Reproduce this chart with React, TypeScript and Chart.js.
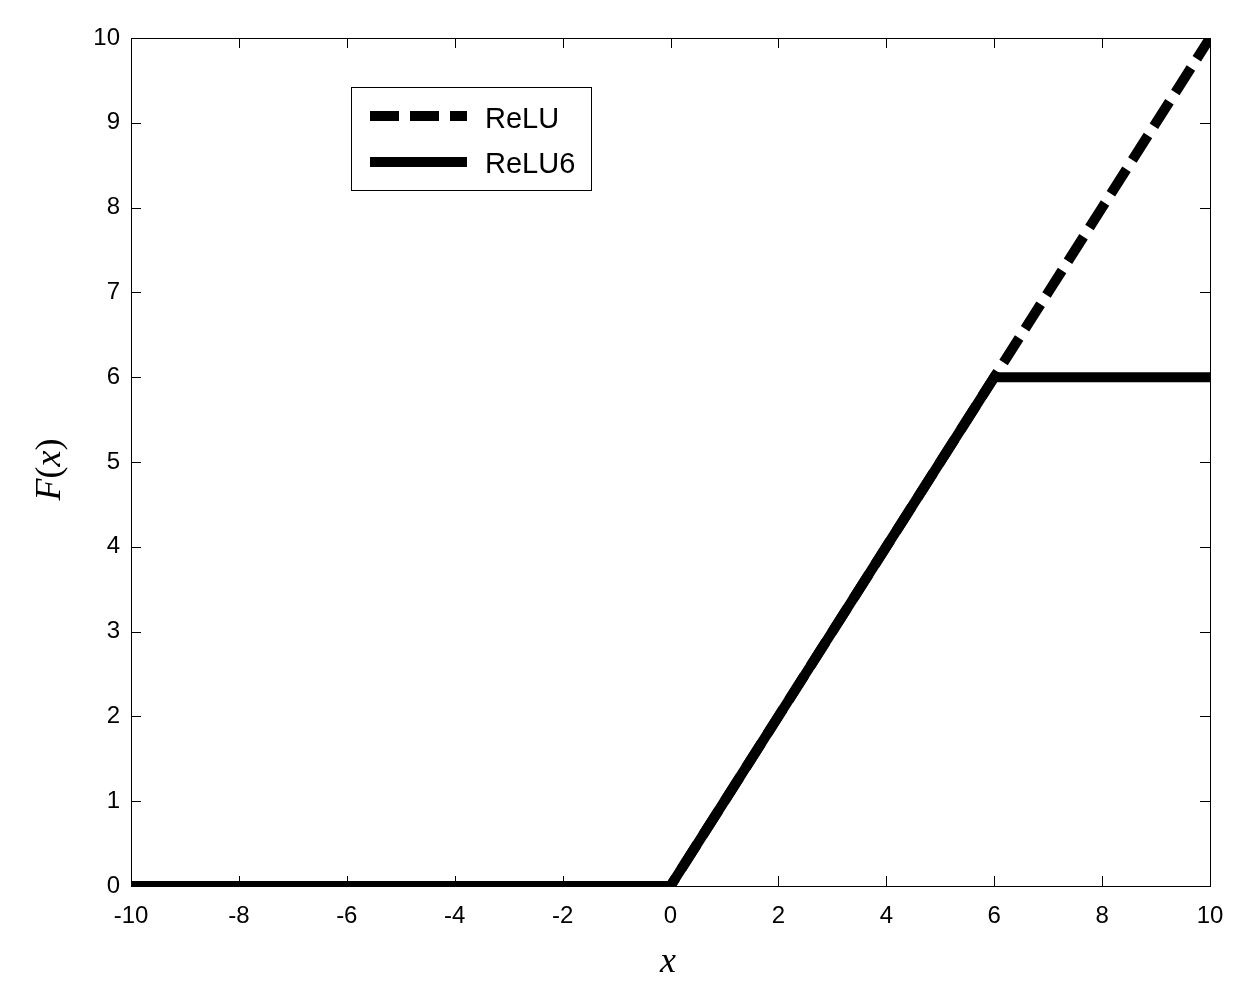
import React, { useEffect, useRef } from "react";
import { Chart, registerables } from "chart.js";

Chart.register(...registerables);

const xValues = [-10, -9, -8, -7, -6, -5, -4, -3, -2, -1, 0, 1, 2, 3, 4, 5, 6, 7, 8, 9, 10];
const reluValues = [0, 0, 0, 0, 0, 0, 0, 0, 0, 0, 0, 1, 2, 3, 4, 5, 6, 7, 8, 9, 10];
const relu6Values = [0, 0, 0, 0, 0, 0, 0, 0, 0, 0, 0, 1, 2, 3, 4, 5, 6, 6, 6, 6, 6];
const xTicks = [-10, -8, -6, -4, -2, 0, 2, 4, 6, 8, 10];
const yTicks = [0, 1, 2, 3, 4, 5, 6, 7, 8, 9, 10];
const seriesNames = ["ReLU", "ReLU6"];

const W = 1253;
const H = 1004;
const DASH = [29, 11];

const framePlugin = {
  id: "matlabFrame",
  afterDraw(chart: any) {
    const { ctx, chartArea } = chart;
    const xs = chart.scales.x;
    const ys = chart.scales.y;
    const { left, right, top, bottom } = chartArea;
    ctx.save();
    ctx.strokeStyle = "#000";
    ctx.lineWidth = 1;
    ctx.setLineDash([]);
    ctx.strokeRect(Math.round(left) + 0.5, Math.round(top) + 0.5, Math.round(right - left), Math.round(bottom - top));
    const tl = 10;
    ctx.beginPath();
    xTicks.forEach((v) => {
      const px = Math.round(xs.getPixelForValue(v)) + 0.5;
      ctx.moveTo(px, bottom);
      ctx.lineTo(px, bottom - tl);
      ctx.moveTo(px, top);
      ctx.lineTo(px, top + tl);
    });
    yTicks.forEach((v) => {
      const py = Math.round(ys.getPixelForValue(v)) + 0.5;
      ctx.moveTo(left, py);
      ctx.lineTo(left + tl, py);
      ctx.moveTo(right, py);
      ctx.lineTo(right - tl, py);
    });
    ctx.stroke();

    // Legend
    const bx = 351.5, by = 87.5, bw = 240, bh = 103;
    ctx.fillStyle = "#fff";
    ctx.fillRect(bx, by, bw, bh);
    ctx.strokeRect(bx, by, bw, bh);
    ctx.lineWidth = 10;
    ctx.lineCap = "butt";
    ctx.beginPath();
    ctx.setLineDash(DASH);
    ctx.moveTo(370, 116);
    ctx.lineTo(467, 116);
    ctx.stroke();
    ctx.beginPath();
    ctx.setLineDash([]);
    ctx.moveTo(370, 162);
    ctx.lineTo(467, 162);
    ctx.stroke();
    ctx.fillStyle = "#000";
    ctx.font = '29px "Liberation Sans", Arial, sans-serif';
    ctx.textAlign = "left";
    ctx.textBaseline = "alphabetic";
    ctx.fillText(seriesNames[0], 485, 128);
    ctx.fillText(seriesNames[1], 485, 173);

    // Axis titles
    const italic = 'italic 36px "Liberation Serif", "Times New Roman", serif';
    const upright = '36px "Liberation Serif", "Times New Roman", serif';
    ctx.font = italic;
    ctx.textAlign = "center";
    ctx.fillText("x", 668, 972);

    const parts: [string, string][] = [
      ["F", italic],
      ["(", upright],
      ["x", italic],
      [")", upright],
    ];
    let total = 0;
    const widths = parts.map(([t, f]) => {
      ctx.font = f;
      const w = ctx.measureText(t).width;
      total += w;
      return w;
    });
    ctx.translate(60, 469.5);
    ctx.rotate(-Math.PI / 2);
    ctx.textAlign = "left";
    let cx = -total / 2;
    parts.forEach(([t, f], i) => {
      ctx.font = f;
      ctx.fillText(t, cx, 0);
      cx += widths[i];
    });
    ctx.restore();
  },
};

export default function App() {
  const ref = useRef<HTMLCanvasElement>(null);
  useEffect(() => {
    if (!ref.current) return;
    const tickFont = { family: '"Liberation Sans", Arial, sans-serif', size: 24 };
    const chart = new Chart(ref.current, {
      type: "line",
      data: {
        datasets: [
          {
            label: seriesNames[0],
            data: xValues.map((x, i) => ({ x, y: reluValues[i] })),
            borderColor: "#000",
            borderWidth: 10,
            borderDash: DASH,
            borderCapStyle: "butt",
            borderJoinStyle: "miter",
            pointRadius: 0,
            fill: false,
            tension: 0,
            order: 1,
          },
          {
            label: seriesNames[1],
            data: xValues.map((x, i) => ({ x, y: relu6Values[i] })),
            borderColor: "#000",
            borderWidth: 10,
            borderCapStyle: "butt",
            borderJoinStyle: "miter",
            pointRadius: 0,
            fill: false,
            tension: 0,
            order: 0,
          },
        ],
      },
      options: {
        responsive: false,
        animation: false,
        devicePixelRatio: 1,
        layout: { padding: { left: 0, right: 43, top: 38, bottom: 0 } },
        plugins: { legend: { display: false }, tooltip: { enabled: false } },
        scales: {
          x: {
            type: "linear",
            min: -10,
            max: 10,
            grid: { display: false, drawTicks: false },
            border: { display: false },
            afterFit: (s: any) => {
              s.height = 118;
            },
            afterBuildTicks: (s: any) => {
              s.ticks = xTicks.map((v) => ({ value: v }));
            },
            ticks: {
              autoSkip: false,
              maxRotation: 0,
              minRotation: 0,
              padding: 16,
              color: "#000",
              font: tickFont,
            },
          },
          y: {
            type: "linear",
            min: 0,
            max: 10,
            grid: { display: false, drawTicks: false },
            border: { display: false },
            afterFit: (s: any) => {
              s.width = 131;
            },
            afterBuildTicks: (s: any) => {
              s.ticks = yTicks.map((v) => ({ value: v }));
            },
            ticks: {
              autoSkip: false,
              padding: 11,
              color: "#000",
              font: tickFont,
            },
          },
        },
      },
      plugins: [framePlugin],
    } as any);
    return () => chart.destroy();
  }, []);
  return (
    <div style={{ position: "absolute", left: 0, top: 0, width: W, height: H, background: "#fff" }}>
      <canvas ref={ref} width={W} height={H} style={{ display: "block", width: W, height: H }} />
    </div>
  );
}
